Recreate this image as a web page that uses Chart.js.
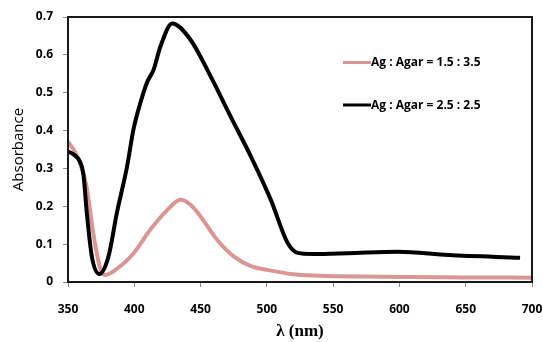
<!DOCTYPE html>
<html>
<head>
<meta charset="utf-8">
<script src="https://cdn.jsdelivr.net/npm/chart.js@4"></script>
<style>
  html, body { margin: 0; padding: 0; background: #fff; }
  #wrap { width: 543px; height: 342px; position: relative; }
  #box { position: absolute; box-sizing: border-box; border: 2px solid #1a1a1a; pointer-events: none; }
</style>
</head>
<body>
<div id="wrap"><canvas id="chart"></canvas><div id="box"></div></div>
<script>
  // wavelength (nm) and absorbance
  const wlPink = [350, 355, 359, 364, 369, 374, 378, 385, 399.5, 412, 424.8, 434.8, 442.4, 450, 462.6, 475.2, 488, 500.5, 526, 586, 650, 700];
  const absPink = [0.371, 0.345, 0.315, 0.252, 0.13, 0.04, 0.0185, 0.03, 0.076, 0.138, 0.19, 0.217, 0.204, 0.173, 0.111, 0.067, 0.042, 0.032, 0.0185, 0.014, 0.012, 0.0115];

  const wlBlack = [350, 355, 359, 361.6, 364.2, 368, 373.7, 380.5, 386.9, 394.5, 399.5, 404.5, 409.6, 414.6, 419.7, 428.6, 442.4, 457.6, 472.7, 487.9, 503, 515.7, 523.3, 535, 561, 599, 637, 691];
  const absBlack = [0.345, 0.335, 0.318, 0.285, 0.182, 0.067, 0.021, 0.067, 0.183, 0.304, 0.405, 0.472, 0.527, 0.561, 0.622, 0.683, 0.64, 0.543, 0.437, 0.332, 0.217, 0.103, 0.077, 0.074, 0.076, 0.080, 0.071, 0.064];

  const labelPink = 'Ag : Agar = 1.5 : 3.5';
  const labelBlack = 'Ag : Agar = 2.5 : 2.5';
  const xTicks = [350, 400, 450, 500, 550, 600, 650, 700];
  const yTicks = [0, 0.1, 0.2, 0.3, 0.4, 0.5, 0.6, 0.7];

  const toPoints = (xs, ys) => xs.map((x, i) => ({ x: x, y: ys[i] }));

  // legend rows inside the plot: pink on top, black below
  const legendRows = { [labelPink]: 62.5, [labelBlack]: 105 };

  const boxPlugin = {
    id: 'plotBox',
    afterDraw(chart) {
      const ctx = chart.ctx;
      const xs = chart.scales.x;
      const ys = chart.scales.y;
      const l = xs.left, r = xs.right, t = ys.top, b = ys.bottom;

      // frame round the plot, drawn on the canvas...
      ctx.save();
      ctx.globalAlpha = 1;
      ctx.globalCompositeOperation = 'source-over';
      ctx.fillStyle = 'rgb(26, 26, 26)';
      ctx.fillRect(l - 1, t - 1, r - l + 2, 2);
      ctx.fillRect(r - 1, t - 1, 2, b - t + 2);
      ctx.fillRect(l - 1, t - 1, 2, b - t + 2);
      ctx.fillRect(l - 1, b - 1, r - l + 2, 2);

      chart.data.datasets.forEach((ds) => {
        const y = legendRows[ds.label];
        ctx.strokeStyle = ds.borderColor;
        ctx.lineWidth = 3;
        ctx.beginPath();
        ctx.moveTo(343, y);
        ctx.lineTo(371, y);
        ctx.stroke();
        ctx.fillStyle = '#000';
        ctx.font = 'bold 12px "Open Sans"';
        ctx.textBaseline = 'middle';
        ctx.fillText(ds.label, 371, y + 0.5);
      });
      ctx.restore();

      // ...and the same box as an overlay on top of it
      const box = document.getElementById('box');
      box.style.left = (l - 1) + 'px';
      box.style.top = (t - 1) + 'px';
      box.style.width = (r - l + 2) + 'px';
      box.style.height = (b - t + 2) + 'px';
    }
  };

  new Chart(
    document.getElementById('chart'),
    {
      type: 'line',
      data: {
        // black first so it is drawn over the pink line
        datasets: [
          {
            label: labelBlack,
            data: toPoints(wlBlack, absBlack),
            borderColor: '#000',
            borderWidth: 4,
            pointRadius: 0,
            cubicInterpolationMode: 'monotone'
          },
          {
            label: labelPink,
            data: toPoints(wlPink, absPink),
            borderColor: 'rgb(217, 150, 148)',
            borderWidth: 4,
            pointRadius: 0,
            cubicInterpolationMode: 'monotone'
          }
        ]
      },
      options: {
        maintainAspectRatio: false,
        animation: false,
        layout: { padding: { top: 17, right: 11, left: 10, bottom: 0 } },
        plugins: {
          legend: { display: false },
          tooltip: { enabled: false }
        },
        scales: {
          x: {
            type: 'linear',
            min: 350,
            max: 700,
            afterBuildTicks: (axis) => { axis.ticks = xTicks.map(v => ({ value: v })); },
            afterFit: (axis) => {
              axis.height = 60;
              axis.paddingLeft = 0;
              axis.paddingRight = 0;
            },
            grid: { drawOnChartArea: false, tickLength: 5, color: '#888' },
            border: { color: '#1a1a1a', width: 2 },
            ticks: {
              color: '#000',
              padding: 15,
              maxRotation: 0,
              font: { family: 'Open Sans', size: 12, weight: 'bold' }
            },
            title: {
              display: true,
              text: 'λ (nm)',
              color: '#000',
              padding: { top: 0, bottom: 0 },
              font: { family: 'Liberation Serif', size: 17, weight: 'bold' }
            }
          },
          y: {
            min: 0,
            max: 0.7,
            afterBuildTicks: (axis) => { axis.ticks = yTicks.map(v => ({ value: v })); },
            afterFit: (axis) => {
              axis.width = 58;
              axis.paddingTop = 0;
              axis.paddingBottom = 0;
            },
            grid: { drawOnChartArea: false, tickLength: 5, color: '#888' },
            border: { color: '#1a1a1a', width: 2 },
            ticks: {
              color: '#000',
              padding: 10,
              font: { family: 'Open Sans', size: 12, weight: 'bold' },
              callback: (value) => parseFloat(value.toFixed(1)).toString()
            },
            title: {
              display: true,
              text: 'Absorbance',
              color: '#000',
              padding: { top: 0, bottom: 0 },
              font: { family: 'Open Sans', size: 15 }
            }
          }
        }
      },
      plugins: [boxPlugin]
    }
  );
</script>
</body>
</html>
